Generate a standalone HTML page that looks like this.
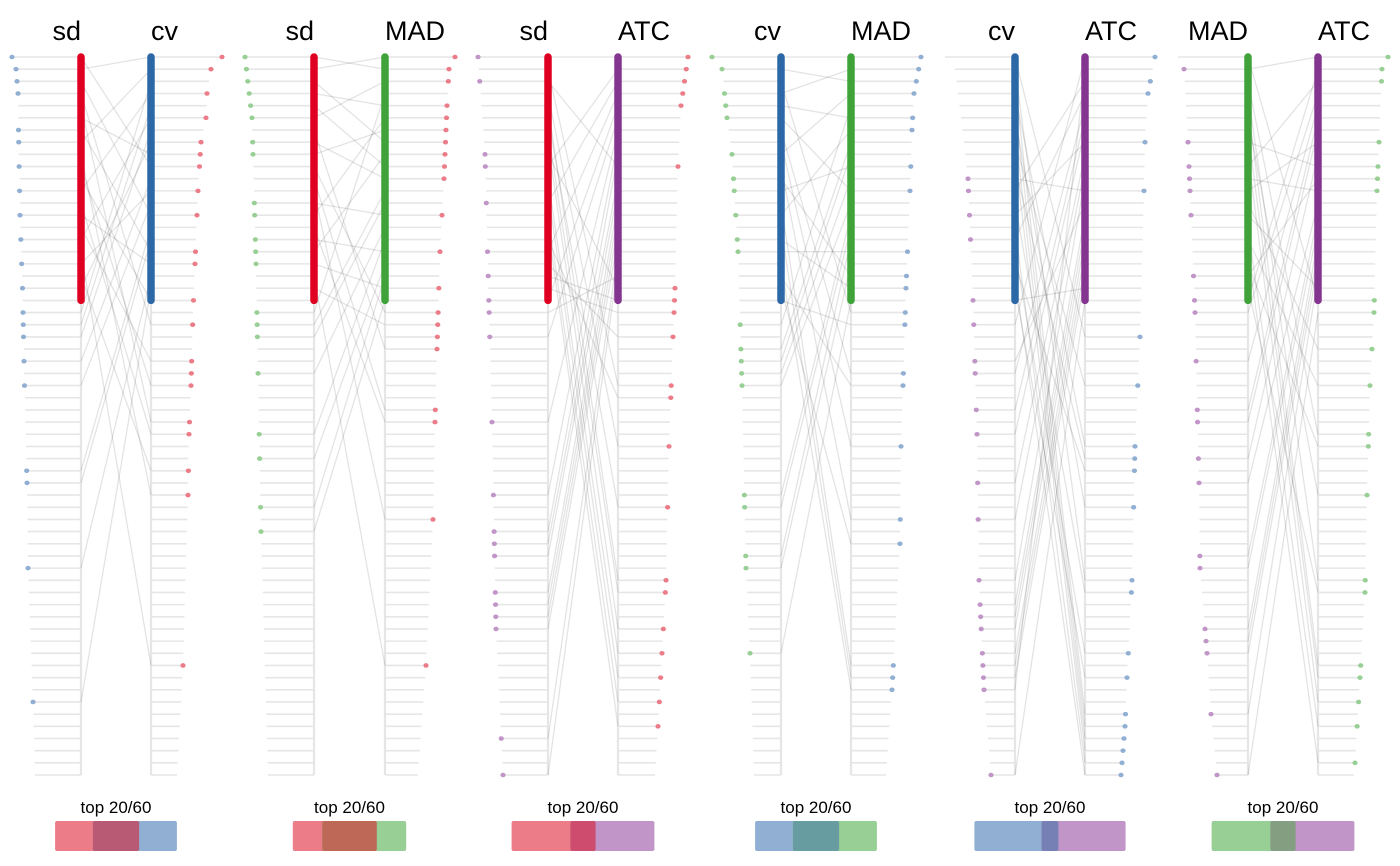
<!DOCTYPE html>
<html><head><meta charset="utf-8"><style>
html,body{margin:0;padding:0;background:#fff;}
svg{display:block;font-family:"Liberation Sans",Arial,sans-serif;}
</style></head><body>
<svg id="chart" width="1400" height="866" viewBox="0 0 1400 866" xmlns="http://www.w3.org/2000/svg"></svg>
<script>
// ---- data ----
const methodNames = ["sd","cv","MAD","ATC"];
const methodColors = ["#DF0021","#2C68A6","#3FA33A","#84358F"];
const methodLight = ["#EC7C87","#90AFD3","#98CF95","#C195C8"];
const panelPairs = [[0,1],[0,2],[0,3],[1,2],[1,3],[2,3]];
const barX = [[81,151],[314,385],[548,618],[781,851],[1015,1085],[1248,1318]];
const overlapCounts = [11,13,6,11,4,6];
const overlapColors = ["#B95A74","#BE6858","#CE4C6E","#679DA0","#7780B5","#839E80"];
const topN = 20, totalN = 60;

// left-side dot ranks (left method rank of genes in right method's top list)
const leftDots = [
 [0,1,2,3,6,7,9,11,13,15,17,19,21,22,23,25,27,34,35,42,53],
 [0,1,2,3,4,5,7,8,12,13,15,16,17,21,22,23,26,31,33,37,39],
 [0,2,8,9,12,16,18,20,21,23,30,36,39,40,41,44,45,46,47,56,59],
 [0,1,3,4,5,8,10,11,13,15,16,22,24,25,26,27,36,37,41,42,49],
 [10,11,13,15,20,22,25,26,29,31,35,38,43,45,46,47,49,50,51,52,59],
 [1,7,9,10,11,13,18,20,21,25,29,30,33,35,41,42,47,48,49,54,59]
];
const rightDots = [
 [0,1,3,5,7,8,9,11,13,16,17,20,22,25,26,27,30,31,34,36,50],
 [0,1,2,4,5,6,7,8,9,10,13,16,19,21,22,23,24,29,30,38,50],
 [0,1,2,3,4,9,19,20,21,23,27,28,32,37,43,44,47,49,51,53,55],
 [0,1,2,3,5,6,9,11,16,18,19,21,22,26,27,32,38,40,50,51,52],
 [0,2,3,7,11,23,27,32,33,34,37,43,44,49,51,54,55,56,57,58,59],
 [0,1,2,7,9,10,11,20,21,24,27,31,32,36,43,44,50,51,53,55,58]
];
// metric value curves (rank, value) per side
const leftValues = [
 [[0,69],[1,65],[3,63],[6,62.5],[13,61],[19,58.5],[27,56.5],[35,54],[42,53],[53,48],[59,46]],
 [[0,69],[5,62],[17,58],[39,53],[59,46]],
 [[0,70],[8,63],[30,56],[47,52],[59,45]],
 [[0,69],[1,59],[5,54],[8,49],[16,43],[27,39],[42,35],[49,31],[59,27]],
 [[0,70],[1,60],[5,54],[10,47],[20,42],[31,38],[43,36],[52,31],[59,24]],
 [[0,70],[1,64],[7,60],[13,57],[21,53],[35,49],[42,48],[49,41],[54,37],[59,31]]
];
const rightValues = [
 [[0,71],[1,60],[3,56],[5,55],[7,50],[11,47],[17,44],[21,42],[27,40],[31,38],[36,37],[50,32],[59,26]],
 [[0,70],[1,64],[4,62],[10,59],[16,55],[24,52],[30,50],[38,48],[50,41],[59,33]],
 [[0,70],[4,63],[9,60],[19,57],[23,55],[32,51],[43,48],[55,40],[59,37]],
 [[0,70],[3,63],[6,61],[11,59],[19,55],[27,52],[32,50],[40,49],[52,41],[59,35]],
 [[0,70],[3,63],[7,60],[11,59],[23,55],[32,50],[43,47],[51,42],[55,40],[59,36]],
 [[0,70],[1,64],[7,61],[11,59],[21,56],[27,52],[36,49],[44,47],[51,42],[58,37],[59,36]]
];
// gene links: [rank in left method, rank in right method]
const links = [
 [[1,0],[0,9],[2,13],[3,22],[4,30],[5,8],[6,16],[7,1],[8,36],[9,27],[10,20],[11,3],[12,31],[13,17],[14,25],[15,5],[16,50],[17,11],[18,34],[19,7],[21,2],[22,4],[23,6],[25,10],[27,12],[34,14],[35,15],[42,18],[53,19]],
 [[0,1],[1,0],[2,7],[3,4],[4,9],[5,2],[6,24],[7,10],[8,6],[9,21],[10,29],[11,38],[12,13],[13,5],[14,30],[15,16],[16,8],[17,19],[18,50],[19,22],[21,3],[22,11],[23,12],[26,14],[31,15],[33,17],[37,18],[39,20]],
 [[0,0],[2,9],[1,27],[3,32],[4,43],[5,37],[6,44],[7,47],[8,19],[9,1],[10,49],[11,51],[12,2],[13,53],[14,55],[15,28],[16,3],[17,23],[18,20],[19,21],[20,4],[21,18],[23,5],[30,6],[36,7],[39,8],[40,10],[41,11],[44,12],[45,13],[46,14],[47,15],[56,16],[59,17]],
 [[0,0],[1,2],[2,21],[3,1],[4,5],[5,11],[6,26],[7,32],[8,3],[9,38],[10,18],[11,9],[12,50],[13,6],[14,51],[15,19],[16,16],[17,52],[18,27],[19,40],[22,4],[24,7],[25,8],[26,10],[27,12],[36,13],[37,14],[41,15],[42,17],[49,20],[20,22]],
 [[0,23],[1,43],[2,54],[3,32],[4,55],[5,37],[6,56],[7,27],[8,57],[9,33],[10,11],[11,2],[12,44],[13,7],[14,58],[15,3],[16,49],[17,34],[18,59],[19,51],[20,19],[22,0],[25,12],[26,4],[29,5],[31,6],[35,8],[38,9],[43,10],[45,13],[46,14],[47,15],[49,16],[50,17],[51,18],[52,1],[59,20]],
 [[1,0],[0,20],[2,31],[3,43],[4,50],[5,36],[6,51],[7,9],[8,53],[9,2],[10,11],[11,7],[12,24],[13,19],[14,55],[15,27],[16,58],[17,32],[18,10],[19,44],[20,1],[21,3],[25,4],[29,5],[30,6],[33,8],[35,12],[41,13],[42,14],[47,15],[48,16],[49,17],[54,18],[59,21]]
];

// ---- scales ----
const NS = "http://www.w3.org/2000/svg";
const svg = document.getElementById("chart");
const y0 = 57, y1 = 775;
function yRank(r){ return y0 + r*(y1-y0)/(totalN-1); }
function interp(anchors, r){
  for(let i=0;i<anchors.length-1;i++){
    const a=anchors[i], b=anchors[i+1];
    if(r>=a[0] && r<=b[0]){ return a[1] + (b[1]-a[1])*(r-a[0])/(b[0]-a[0]); }
  }
  return anchors[anchors.length-1][1];
}
const unitPx = 4.2;
function mk(tag, attrs, parent){
  const e=document.createElementNS(NS,tag);
  for(const k in attrs) e.setAttribute(k, attrs[k]);
  (parent||svg).appendChild(e);
  return e;
}

panelPairs.forEach((pair, p) => {
  const g = mk("g", {});
  
  
  const xl = barX[p][0], xr = barX[p][1];
  // row guide lines
  for(let r=0;r<totalN;r++){
    const y=yRank(r);
    const hl = mk("line",{x1:xl-interp(leftValues[p],r),y1:y,x2:xl,y2:y,stroke:"#e6e6e6","stroke-width":1.6},g);
    
    
    const hr = mk("line",{x1:xr,y1:y,x2:xr+interp(rightValues[p],r),y2:y,stroke:"#e6e6e6","stroke-width":1.6},g);
    
    
  }
  // vertical axes
  [xl,xr].forEach(x=>{
    const v = mk("line",{x1:x,y1:y0,x2:x,y2:y1,stroke:"#e6e6e6","stroke-width":2.2},g);
    
    
  });
  // links
  links[p].forEach(l=>{
    const ln = mk("line",{x1:xl,y1:yRank(l[0]),x2:xr,y2:yRank(l[1]),stroke:"rgba(0,0,0,0.11)","stroke-width":1.3},g);
    
    
  });
  // top bars
  [[xl,pair[0]],[xr,pair[1]]].forEach(([x,m])=>{
    const b = mk("line",{x1:x,y1:yRank(0),x2:x,y2:yRank(topN),stroke:methodColors[m],"stroke-width":7.5,"stroke-linecap":"round"},g);
    
    
  });
  // dots
  leftDots[p].forEach(r=>{
    const c = mk("ellipse",{cx:xl-interp(leftValues[p],r),cy:yRank(r),rx:2.6,ry:2.3,fill:methodLight[pair[1]]},g);
    
    
  });
  rightDots[p].forEach(r=>{
    const c = mk("ellipse",{cx:xr+interp(rightValues[p],r),cy:yRank(r),rx:2.6,ry:2.3,fill:methodLight[pair[0]]},g);
    
    
  });
  // titles
  const t1 = mk("text",{x:xl,y:40,"text-anchor":"end","font-size":27,fill:"#000"},g);
  t1.textContent = methodNames[pair[0]];
  
  
  const t2 = mk("text",{x:xr,y:40,"text-anchor":"start","font-size":27,fill:"#000"},g);
  t2.textContent = methodNames[pair[1]];
  
  
  // overlap bar
  const cx = (xl+xr)/2, o = overlapCounts[p];
  const w = (2*topN - o)*unitPx;
  const x0 = cx - w/2, aW = topN*unitPx, oW = o*unitPx;
  const lbl = mk("text",{x:cx,y:813,"text-anchor":"middle","font-size":17,fill:"#000"},g);
  lbl.textContent = "top " + topN + "/" + totalN;
  
  
  const ra = mk("rect",{x:x0,y:821,width:aW,height:30,rx:2,fill:methodLight[pair[0]]},g);
  
  
  const rb = mk("rect",{x:x0+aW-oW,y:821,width:aW,height:30,rx:2,fill:methodLight[pair[1]]},g);
  
  
  const rc = mk("rect",{x:x0+aW-oW,y:821,width:oW,height:30,rx:2,fill:overlapColors[p]},g);
  
  
});
</script>
</body></html>
